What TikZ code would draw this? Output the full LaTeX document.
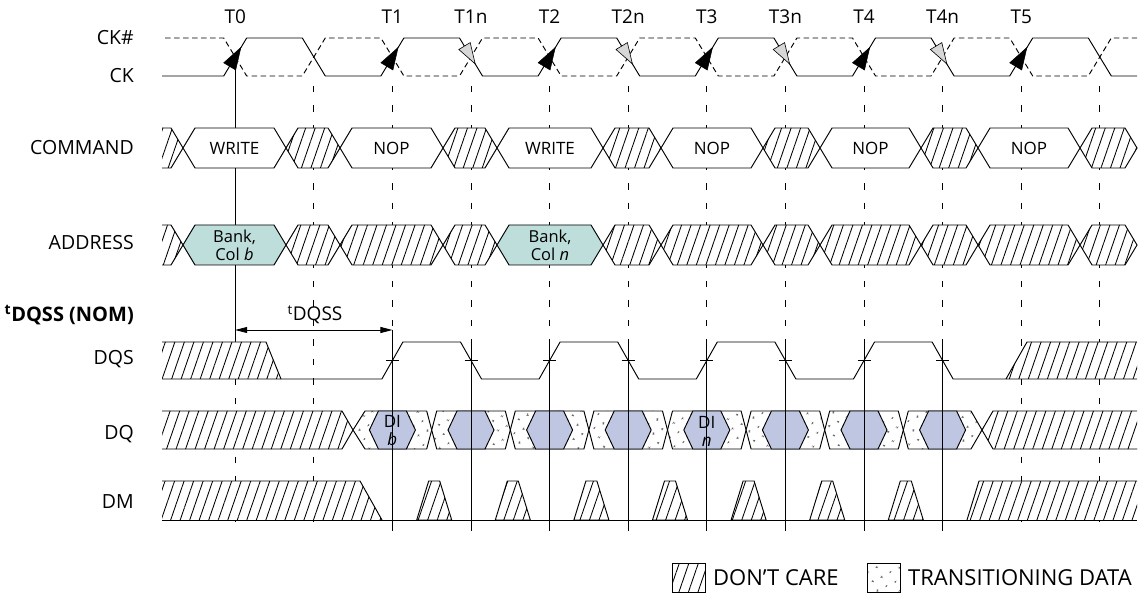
\documentclass[tikz,border=0pt]{standalone}
\usepackage{fontspec}
\setmainfont{Open Sans}
\usetikzlibrary{patterns.meta,arrows.meta,calc}
\definecolor{tealfill}{RGB}{190,222,220}
\definecolor{bluefill}{RGB}{190,198,225}
\definecolor{arrgray}{RGB}{215,215,215}
\definecolor{dotgray}{RGB}{100,100,100}
\tikzset{
  sig/.style={line width=0.95pt, line join=miter},
  ckdash/.style={sig, dash pattern=on 5.5pt off 3.5pt},
  vgrid/.style={line width=0.8pt, dash pattern=on 6.5pt off 13pt},
  dcfill/.style={preaction={fill=white}, pattern={Lines[angle=71,distance=9pt,line width=0.85pt]}},
  tdfill/.style={preaction={fill=white}, pattern={Dots[distance=10.5pt,radius=1.25pt,angle=27]}, pattern color=dotgray},
  lbl/.style={anchor=base east, font=\fontsize{19.5}{22}\selectfont, inner sep=0pt},
  tlbl/.style={anchor=base, font=\fontsize{19}{22}\selectfont, inner sep=0pt},
  bustext/.style={font=\fontsize{17}{18}\selectfont, align=center, inner sep=0pt},
  smalltext/.style={font=\fontsize{16.5}{18}\selectfont, align=center, inner sep=0pt},
  legtext/.style={anchor=west, font=\fontsize{22}{24}\selectfont, inner sep=0pt},
}
% hexagon: x1, x2, left slant, right slant, ytop, ybot, style
\newcommand\hexp[7]{\path[#7] (#1,{(#5+#6)/2}) -- ({#1+#3},#5) -- ({#2-#4},#5) -- (#2,{(#5+#6)/2}) -- ({#2-#4},#6) -- ({#1+#3},#6) -- cycle;}
\begin{document}
\begin{tikzpicture}[x=1pt,y=-1pt]
\useasboundingbox (0,0) rectangle (1138,601);
\fill[white] (0,0) rectangle (1138,601);

% ---- vertical dashed grid
\foreach \i in {0,...,11}
  \draw[vgrid] ({235.2+78.6*\i},86) -- ({235.2+78.6*\i},528);
% T0 reference line
\coordinate (t0top) at (235.2,68);
\coordinate (t0bot) at (235.2,342);
\draw[sig] (t0top) -- (t0bot);

% ---- clock
\draw[sig] (162,76) \foreach \i [evaluate=\i as \x using {235.2+78.6*\i}, evaluate=\i as \ya using {76-38*mod(\i,2)}, evaluate=\i as \yb using {38+38*mod(\i,2)}] in {0,...,11} { -- (\x-11.5,\ya) -- (\x+11.5,\yb) } -- (1137,76);
\draw[ckdash] (165,38) \foreach \i [evaluate=\i as \x using {235.2+78.6*\i}, evaluate=\i as \ya using {76-38*mod(\i,2)}, evaluate=\i as \yb using {38+38*mod(\i,2)}] in {0,...,11} { -- (\x-11.5,\yb) -- (\x+11.5,\ya) } -- (1137,38);
\foreach \i in {0,2,4,6,8,10} {
  \pgfmathsetmacro\x{235.2+78.6*\i}
  \filldraw[line width=0.5pt] (\x+5.7,47.5) -- (\x+0.5,70) -- (\x-11.5,62.8) -- cycle;
}
\foreach \i in {3,5,7,9} {
  \pgfmathsetmacro\x{235.2+78.6*\i}
  \filldraw[fill=arrgray, draw=black, line width=0.6pt] (\x+4.2,63.9) -- (\x-12.2,49.5) -- (\x-0.8,42.6) -- cycle;
}

% ---- COMMAND
\path[dcfill] (162,128) -- (171,128) -- (183,148) -- (171,168) -- (162,168) -- cycle;
\draw[sig] (162,128) -- (171,128) -- (183,148) -- (171,168) -- (162,168);
\foreach \a/\b in {286/340,443/497,603/661,763/820,921/978,1080/1137}
  {\hexp{\a}{\b}{12}{12}{128}{168}{dcfill,draw,sig}}
\foreach \a/\b/\lab in {183/286/WRITE,340/443/NOP,497/603/WRITE,661/763/NOP,820/921/NOP,978/1080/NOP}
  {\hexp{\a}{\b}{12}{12}{128}{168}{fill=white,draw,sig}
   \node[bustext] (cmd\a) at ({(\a+\b)/2},148.5) {\lab};}

% ---- ADDRESS
\path[dcfill] (162,225) -- (171,225) -- (183,245) -- (171,265) -- (162,265) -- cycle;
\draw[sig] (162,225) -- (171,225) -- (183,245) -- (171,265) -- (162,265);
\foreach \a/\b in {286/340,340/443,443/497,603/661,661/763,763/820,820/921,921/978,978/1080,1080/1137}
  {\hexp{\a}{\b}{12}{12}{225}{265}{dcfill,draw,sig}}
\hexp{183}{286}{12}{12}{225}{265}{fill=tealfill,draw,sig}
\hexp{497}{603}{12}{12}{225}{265}{fill=tealfill,draw,sig}
\node[smalltext] (adrb) at (234.5,245.5) {Bank,\\Col \textit{b}};
\node[smalltext] (adrn) at (550,245.5) {Bank,\\Col \textit{n}};

% ---- tDQSS
\coordinate (ta) at (235.2,330);
\coordinate (tb) at (392.4,330);
\draw[{Triangle[length=12pt,width=6pt]}-{Triangle[length=12pt,width=6pt]}, line width=0.8pt] (ta) -- (tb);
\node[font=\fontsize{19}{20}\selectfont, inner sep=0pt] (tdqss) at (315,315) {\textsuperscript{t}DQSS};

% ---- DQS
\path[dcfill] (162,342) -- (266,342) -- (281,379) -- (162,379) -- cycle;
\draw[sig] (162,342) -- (266,342) -- (281,379);
\path[dcfill] (1006,379) -- (1027,342) -- (1137,342) -- (1137,379) -- cycle;
\draw[sig] (1006,379) -- (1027,342) -- (1137,342);
\draw[sig] (162,379) \foreach \i [evaluate=\i as \x using {235.2+78.6*\i}, evaluate=\i as \ya using {379-37*mod(\i,2)}, evaluate=\i as \yb using {342+37*mod(\i,2)}] in {2,...,9} { -- (\x-10.5,\ya) -- (\x+10.5,\yb) } -- (1137,379);
\foreach \i in {2,...,9} {
  \pgfmathsetmacro\x{235.2+78.6*\i}
  \draw[sig] (\x-6.5,360) -- (\x+6.5,360);
}

% ---- DQ
\path[dcfill] (162,411) -- (342,411) -- (353,430) -- (342,449) -- (162,449) -- cycle;
\draw[sig] (162,411) -- (342,411) -- (353,430) -- (342,449) -- (162,449);
\path[dcfill] (982,430) -- (993,411) -- (1137,411) -- (1137,449) -- (993,449) -- cycle;
\draw[sig] (1137,411) -- (993,411) -- (982,430) -- (993,449) -- (1137,449);
\hexp{353}{431.7}{12}{5}{411}{449}{tdfill,draw,sig}
\foreach \j in {0,...,5} {
  \pgfmathsetmacro\xa{431.7+78.6*\j}
  \pgfmathsetmacro\xb{510.3+78.6*\j}
  \hexp{\xa}{\xb}{5}{5}{411}{449}{tdfill,draw,sig}
}
\hexp{903.3}{982}{5}{11}{411}{449}{tdfill,draw,sig}
\foreach \j in {0,...,7} {
  \pgfmathsetmacro\e{392.4+78.6*\j}
  \hexp{\e-23}{\e+23}{9}{9}{411}{449}{fill=bluefill,draw,sig}
}
\node[bustext] (dib) at (392.4,431) {DI\\\textit{b}};
\node[bustext] (din) at (706.8,431) {DI\\\textit{n}};

% ---- DM
\path[dcfill] (162,481) -- (360,481) -- (382,520) -- (162,520) -- cycle;
\draw[sig] (162,481) -- (360,481) -- (382,520);
\path[dcfill] (967,520) -- (979,481) -- (1137,481) -- (1137,520) -- cycle;
\draw[sig] (967,520) -- (979,481) -- (1137,481);
\foreach \j in {0,...,6} {
  \pgfmathsetmacro\c{434.2+78.6*\j}
  \path[dcfill,draw,sig] (\c-17.5,520) -- (\c-5.5,481) -- (\c+5.5,481) -- (\c+17.5,520) -- cycle;
}
\draw[sig] (162,520) -- (1137,520);

% ---- solid reference lines over data
\draw[sig] (tb) -- (392.4,531);
\foreach \i in {3,...,9}
  \draw[sig] ({235.2+78.6*\i},342) -- ({235.2+78.6*\i},531);

% ---- labels
\node[lbl] (lckn) at (134,44.8) {CK\#};
\node[lbl] (lck) at (134,82.8) {CK};
\node[lbl] (lcmd) at (134,154.8) {COMMAND};
\node[lbl] (ladr) at (134,249.8) {ADDRESS};
\node[lbl, font=\fontsize{20}{22}\selectfont\bfseries] (lnom) at (134,322) {\textsuperscript{t}DQSS (NOM)};
\node[lbl] (ldqs) at (134,365) {DQS};
\node[lbl] (ldq) at (134,439) {DQ};
\node[lbl] (ldm) at (134,508) {DM};
\foreach \i/\lab in {0/T0,2/T1,3/T1n,4/T2,5/T2n,6/T3,7/T3n,8/T4,9/T4n,10/T5}
  \node[tlbl] (lab\i) at ({235.2+78.6*\i},24) {\lab};

% ---- legend
\path[dcfill, draw, line width=0.8pt] (672,563) rectangle (705,592);
\node[legtext] (legdc) at (713,578) {DON’T CARE};
\path[tdfill, draw, line width=0.8pt] (867,563) rectangle (900,592);
\node[legtext] (legtd) at (908,578) {TRANSITIONING DATA};
\end{tikzpicture}
\end{document}
